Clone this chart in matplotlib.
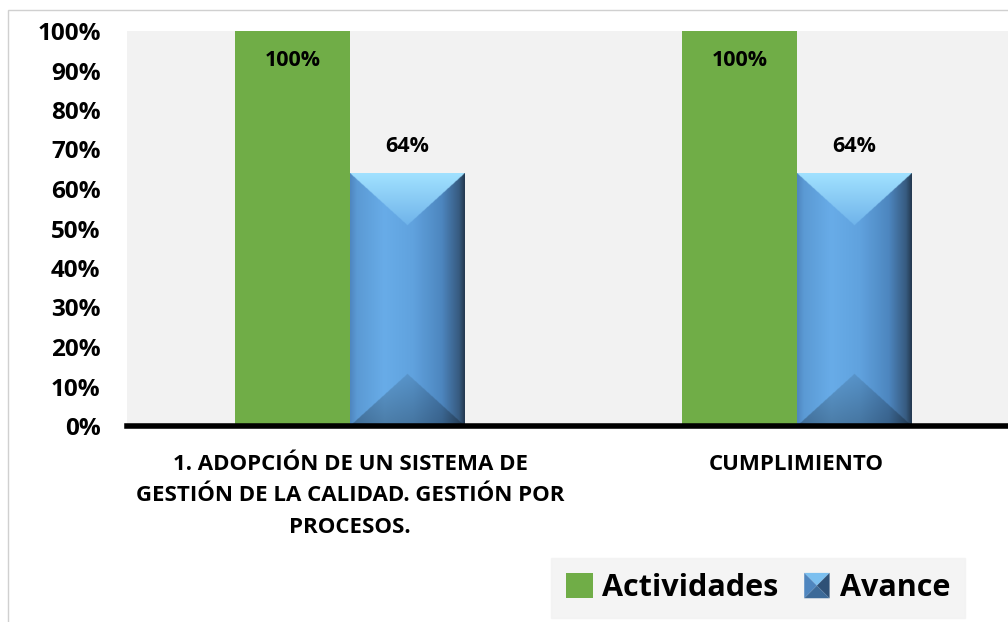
import numpy as np
import matplotlib
matplotlib.use('Agg')
import matplotlib.pyplot as plt
from matplotlib.patches import Patch, Rectangle, Polygon
from matplotlib.legend_handler import HandlerBase
from matplotlib.colors import to_rgb

# Data
categories = ['1. ADOPCIÓN DE UN SISTEMA DE\nGESTIÓN DE LA CALIDAD. GESTIÓN POR\nPROCESOS.',
              'CUMPLIMIENTO']
actividades = [1.00, 1.00]
avance = [0.64, 0.64]
series_names = ['Actividades', 'Avance']

green = '#70ad47'
bg = '#f2f2f2'
plt.rcParams['font.family'] = ['Open Sans', 'DejaVu Sans']
plt.rcParams['font.weight'] = 'bold'


def bevel_image(wpx, hpx, n=300):
    # bevelled blue bar texture
    ny = int(n * hpx / wpx)
    u = np.linspace(0, 1, n)
    t = np.linspace(0, hpx, ny)
    U, T = np.meshgrid(u, t)
    xs = [0.0, 0.06, 0.3, 0.55, 0.8, 0.95, 1.0]
    cols = ['#4f86bf', '#5b9ad4', '#68ace8', '#60a2de', '#4d86bf', '#375b80', '#23384f']
    rgb = np.array([to_rgb(c) for c in cols])
    img = np.zeros((ny, n, 3))
    for k in range(3):
        img[..., k] = np.interp(U, xs, rgb[:, k])
    depth = 52.0
    slope = (wpx / 2) / depth
    side = np.minimum(U, 1 - U) * wpx
    top = T * slope < side
    bot = (hpx - T) * slope < side
    ttop = np.clip(T / depth, 0, 1)
    c0 = np.array(to_rgb('#a2e2ff'))
    c1 = np.array(to_rgb('#6fb3ea'))
    topc = c0[None, None, :] * (1 - ttop[..., None]) + c1[None, None, :] * ttop[..., None]
    img[top] = topc[top]
    tb = np.clip((hpx - T) / depth, 0, 1)
    botc = img * (0.72 + 0.18 * tb[..., None])
    img[bot] = botc[bot]
    return img


class BevelHandler(HandlerBase):
    def create_artists(self, legend, orig_handle, xdescent, ydescent,
                       width, height, fontsize, trans):
        x0, y0 = -xdescent, -ydescent
        s = height
        x0 = x0 + (width - s) / 2
        cx, cy = x0 + s / 2, y0 + s / 2
        tl, tr, bl, br = (x0, y0 + s), (x0 + s, y0 + s), (x0, y0), (x0 + s, y0)
        c = (cx, cy)
        polys = [
            Polygon([tl, tr, c], facecolor='#7cc0f0'),
            Polygon([tl, bl, c], facecolor='#4f86bf'),
            Polygon([tr, br, c], facecolor='#2f5177'),
            Polygon([bl, br, c], facecolor='#3d6a98'),
        ]
        for p in polys:
            p.set_transform(trans)
            p.set_linewidth(0)
        return polys


fig = plt.figure(figsize=(10.08, 6.22), dpi=100)
fig.patches.append(Rectangle((8 / 1008, -0.1), 1.2, 1 - 10 / 622 + 0.1,
                             transform=fig.transFigure, fill=False,
                             edgecolor='#d0d0d0', linewidth=1))
ax = fig.add_axes([127 / 1008, 1 - 426 / 622, 893 / 1008, 395 / 622])
ax.set_facecolor(bg)

x = np.arange(len(categories))
w = 0.257
ax.set_xlim(-0.5, len(categories) - 0.5)
ax.set_ylim(0, 1)

ax.bar(x - w / 2, actividades, w, color=green, zorder=2)
bars = ax.bar(x + w / 2, avance, w, color='none', zorder=2)

for b in bars:
    x0, y0 = b.get_x(), b.get_y()
    x1, y1 = x0 + b.get_width(), y0 + b.get_height()
    (px0, py0), (px1, py1) = ax.transData.transform([(x0, y0), (x1, y1)])
    img = bevel_image(px1 - px0, py1 - py0)
    im = ax.imshow(img, extent=(x0, x1, y0, y1), aspect='auto', zorder=3,
                   interpolation='bilinear')
    im.set_clip_path(b)

for xi, v in zip(x, actividades):
    ax.text(xi - w / 2, v - 0.075, f'{v:.0%}', ha='center', va='center',
            fontsize=15.5, fontweight='bold', zorder=4)
for xi, v in zip(x, avance):
    ax.text(xi + w / 2, v + 0.067, f'{v:.0%}', ha='center', va='center',
            fontsize=15.5, fontweight='bold', zorder=4)

ax.set_yticks(np.arange(0, 1.01, 0.1))
ax.set_yticklabels([f'{t:.0%}' for t in np.arange(0, 1.01, 0.1)],
                   fontsize=17.5, fontweight='bold')
ax.set_xticks(x)
ax.set_xticklabels(categories, fontsize=16, fontweight='bold', linespacing=1.65)
ax.tick_params(axis='y', length=0, pad=19)
ax.tick_params(axis='x', length=0, pad=20)
for s in ['top', 'right', 'left']:
    ax.spines[s].set_visible(False)
ax.spines['bottom'].set_linewidth(4)
ax.spines['bottom'].set_zorder(5)

handles = [Patch(facecolor=green), Patch(facecolor='#5b9ad4')]
leg = fig.legend(handles, series_names, loc='center',
                 bbox_to_anchor=(758 / 1008, 1 - 588 / 622),
                 ncol=2, frameon=True, fancybox=False,
                 prop={'size': 22, 'weight': 'bold'},
                 handler_map={handles[1]: BevelHandler()},
                 handlelength=0.9, handleheight=0.9, handletextpad=0.3,
                 columnspacing=0.8, borderpad=0.5)
leg.get_frame().set_facecolor(bg)
leg.get_frame().set_edgecolor(bg)

fig.savefig('out.png', dpi=100)
